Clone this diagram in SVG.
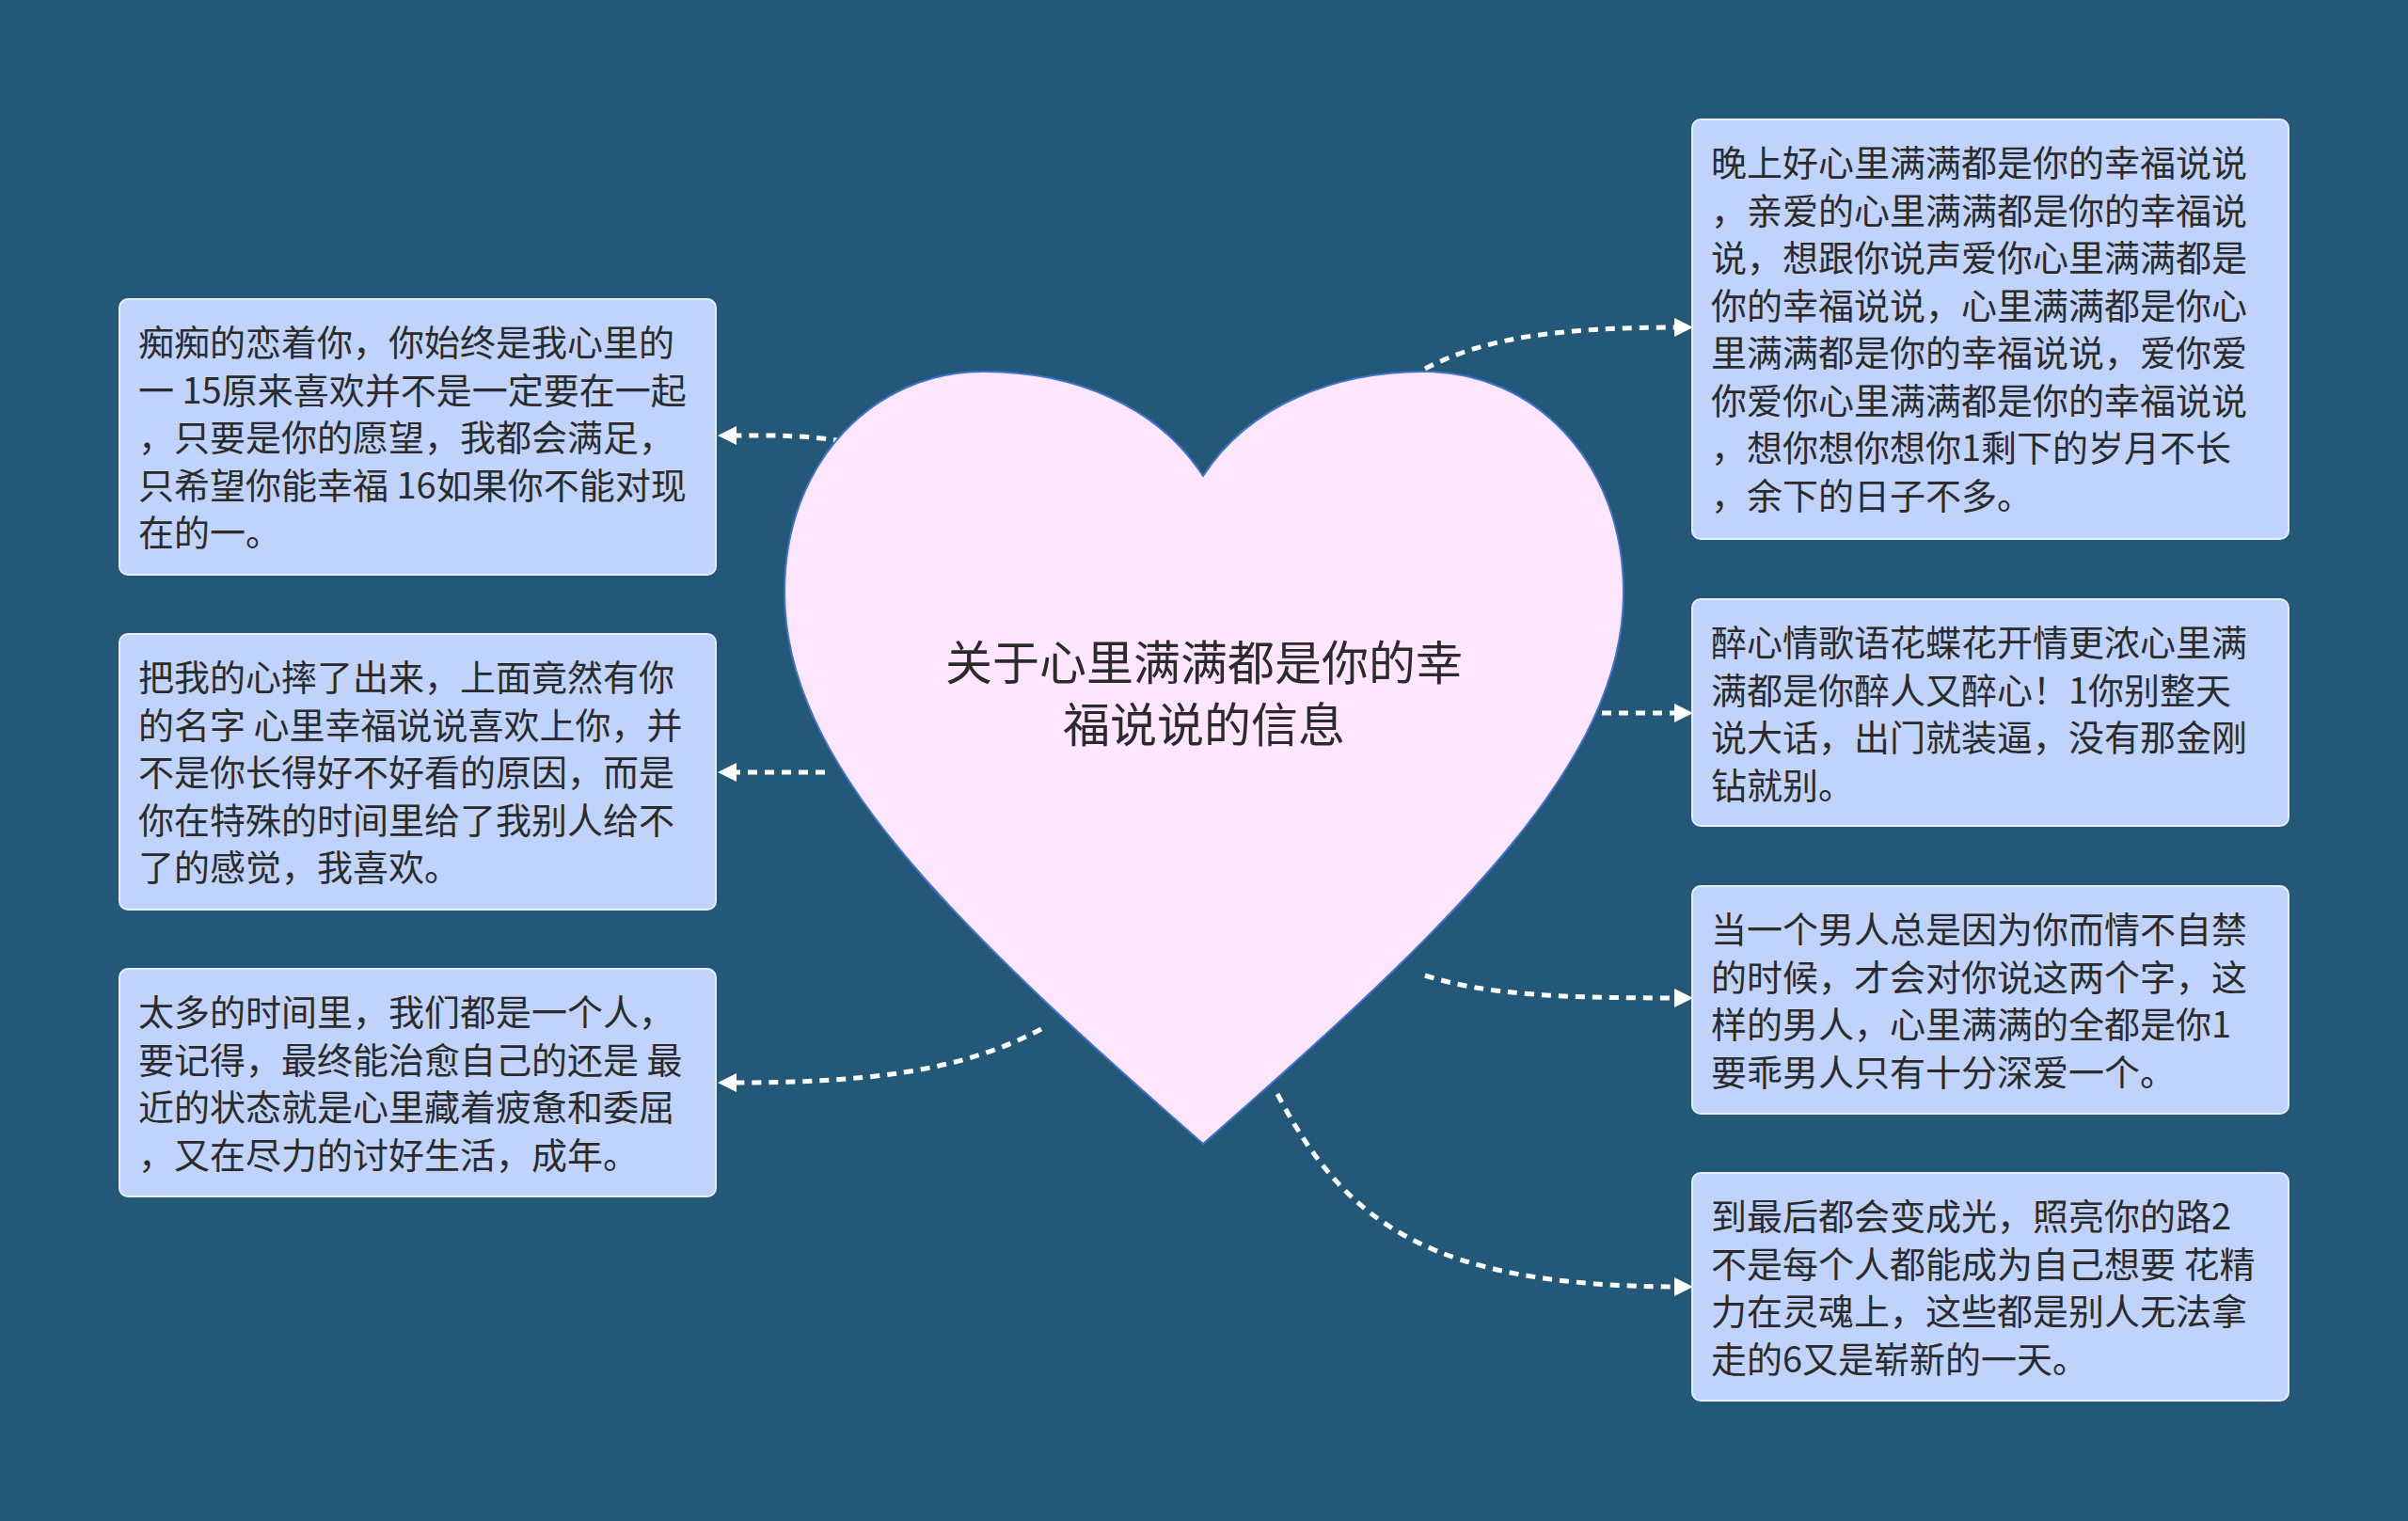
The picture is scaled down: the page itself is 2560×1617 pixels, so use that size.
<svg xmlns="http://www.w3.org/2000/svg" width="2560" height="1617" viewBox="0 0 2560 1617">
<style>
.box{fill:#bfd3fd;stroke:#e6eeff;stroke-width:2}
.t{font-family:"Noto Sans CJK SC","Noto Sans",sans-serif;font-size:38px;fill:#2b2b2b}
.title{font-family:"Noto Sans CJK SC","Noto Sans",sans-serif;font-size:50px;fill:#2b2b2b;text-anchor:middle}
.c{fill:none;stroke:#ffffff;stroke-width:5;stroke-dasharray:10 8;marker-end:url(#arr)}
</style>
<defs>
<marker id="arr" viewBox="0 0 10 10" refX="4" refY="5" markerWidth="4" markerHeight="4" orient="auto" markerUnits="strokeWidth">
<path d="M0,0 L10,5 L0,10 Z" fill="#ffffff"/>
</marker>
</defs>
<rect width="2560" height="1617" fill="#235879"/>
<g id="connectors">
<path class="c" d="M896,469 C850,462 820,463 775,463"/>
<path class="c" d="M877,821 L775,821"/>
<path class="c" d="M1107,1094 C1020,1140 920,1151 775,1151"/>
<path class="c" d="M1515,392 C1580,358 1660,348 1788,348"/>
<path class="c" d="M1703,758 L1788,758"/>
<path class="c" d="M1515,1037 C1580,1058 1660,1061 1788,1061"/>
<path class="c" d="M1358,1163 C1430,1300 1520,1368 1788,1368"/>
</g>
<g id="center">
<path d="M1279,506 C1230,430 1140,395 1045,395 C930,395 834,490 834,630 C834,810 1010,980 1279,1216 C1548,980 1726,810 1726,630 C1726,490 1630,395 1515,395 C1420,395 1328,430 1279,506 Z" fill="#ffe5fd" stroke="#3f73cc" stroke-width="2"/>
<text class="title" x="1280" y="723">关于心里满满都是你的幸</text>
<text class="title" x="1280" y="789">福说说的信息</text>
</g>
<g id="node-l1">
<rect class="box" x="127" y="318" width="634" height="293" rx="9"/>
<text class="t" x="147" y="378">痴痴的恋着你，你始终是我心里的</text>
<text class="t" x="147" y="429">一 15原来喜欢并不是一定要在一起</text>
<text class="t" x="147" y="479">，只要是你的愿望，我都会满足，</text>
<text class="t" x="147" y="530">只希望你能幸福 16如果你不能对现</text>
<text class="t" x="147" y="580">在的一。</text>
</g>
<g id="node-l2">
<rect class="box" x="127" y="674" width="634" height="293" rx="9"/>
<text class="t" x="147" y="734">把我的心摔了出来，上面竟然有你</text>
<text class="t" x="147" y="785">的名字 心里幸福说说喜欢上你，并</text>
<text class="t" x="147" y="835">不是你长得好不好看的原因，而是</text>
<text class="t" x="147" y="886">你在特殊的时间里给了我别人给不</text>
<text class="t" x="147" y="936">了的感觉，我喜欢。</text>
</g>
<g id="node-l3">
<rect class="box" x="127" y="1030" width="634" height="242" rx="9"/>
<text class="t" x="147" y="1090">太多的时间里，我们都是一个人，</text>
<text class="t" x="147" y="1141">要记得，最终能治愈自己的还是 最</text>
<text class="t" x="147" y="1191">近的状态就是心里藏着疲惫和委屈</text>
<text class="t" x="147" y="1242">，又在尽力的讨好生活，成年。</text>
</g>
<g id="node-r1">
<rect class="box" x="1799" y="127" width="634" height="446" rx="9"/>
<text class="t" x="1819" y="187">晚上好心里满满都是你的幸福说说</text>
<text class="t" x="1819" y="238">，亲爱的心里满满都是你的幸福说</text>
<text class="t" x="1819" y="288">说，想跟你说声爱你心里满满都是</text>
<text class="t" x="1819" y="339">你的幸福说说，心里满满都是你心</text>
<text class="t" x="1819" y="389">里满满都是你的幸福说说，爱你爱</text>
<text class="t" x="1819" y="440">你爱你心里满满都是你的幸福说说</text>
<text class="t" x="1819" y="490">，想你想你想你1剩下的岁月不长</text>
<text class="t" x="1819" y="541">，余下的日子不多。</text>
</g>
<g id="node-r2">
<rect class="box" x="1799" y="637" width="634" height="241" rx="9"/>
<text class="t" x="1819" y="697">醉心情歌语花蝶花开情更浓心里满</text>
<text class="t" x="1819" y="748">满都是你醉人又醉心！1你别整天</text>
<text class="t" x="1819" y="798">说大话，出门就装逼，没有那金刚</text>
<text class="t" x="1819" y="849">钻就别。</text>
</g>
<g id="node-r3">
<rect class="box" x="1799" y="942" width="634" height="242" rx="9"/>
<text class="t" x="1819" y="1002">当一个男人总是因为你而情不自禁</text>
<text class="t" x="1819" y="1053">的时候，才会对你说这两个字，这</text>
<text class="t" x="1819" y="1103">样的男人，心里满满的全都是你1</text>
<text class="t" x="1819" y="1154">要乖男人只有十分深爱一个。</text>
</g>
<g id="node-r4">
<rect class="box" x="1799" y="1247" width="634" height="242" rx="9"/>
<text class="t" x="1819" y="1307">到最后都会变成光，照亮你的路2</text>
<text class="t" x="1819" y="1358">不是每个人都能成为自己想要 花精</text>
<text class="t" x="1819" y="1408">力在灵魂上，这些都是别人无法拿</text>
<text class="t" x="1819" y="1459">走的6又是崭新的一天。</text>
</g>
</svg>
